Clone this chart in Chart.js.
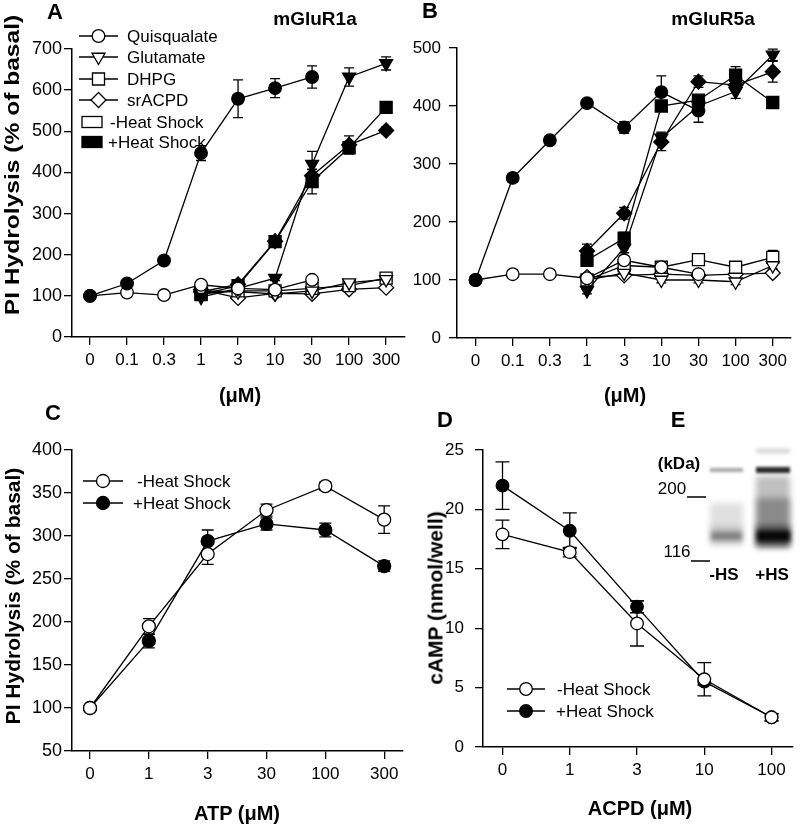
<!DOCTYPE html>
<html><head><meta charset="utf-8">
<script src="https://cdn.jsdelivr.net/npm/chart.js@4/dist/chart.umd.min.js"></script>
<style>
html,body{margin:0;padding:0;background:#fff;}
#wrap{position:relative;width:800px;height:826px;overflow:hidden;font-family:"Liberation Sans",Arial,sans-serif;color:#000;background:#fff;}
canvas.full{position:absolute;left:0;top:0;}
#blot{position:absolute;left:650px;top:440px;}
.t{position:absolute;white-space:nowrap;line-height:1;transform:translate(-50%,-50%);}
.b{font-weight:bold;}
</style></head><body><div id="wrap">
<canvas id="cA" class="full" width="800" height="826"></canvas>
<canvas id="cB" class="full" width="800" height="826"></canvas>
<canvas id="cC" class="full" width="800" height="826"></canvas>
<canvas id="cD" class="full" width="800" height="826"></canvas>
<canvas id="blot" width="150" height="150"></canvas>
<div class="t b" style="left:55px;top:12px;font-size:22px;">A</div>
<div class="t b" style="left:430px;top:11px;font-size:22px;">B</div>
<div class="t b" style="left:53px;top:413px;font-size:22px;">C</div>
<div class="t b" style="left:445px;top:420px;font-size:22px;">D</div>
<div class="t b" style="left:678px;top:420px;font-size:22px;">E</div>
<div class="t b" style="left:315px;top:18px;font-size:19px;">mGluR1a</div>
<div class="t b" style="left:713px;top:18px;font-size:19px;">mGluR5a</div>
<div class="t b" style="left:240px;top:395px;font-size:20px;">(μM)</div>
<div class="t b" style="left:625px;top:395px;font-size:20px;">(μM)</div>
<div class="t b" style="left:237px;top:813px;font-size:20px;">ATP (μM)</div>
<div class="t b" style="left:640px;top:808px;font-size:20px;">ACPD (μM)</div>
<div class="t b" style="left:11px;top:165px;font-size:21px;transform:translate(-50%,-50%) rotate(-90deg) scaleX(1.17);">PI Hydrolysis (% of basal)</div>
<div class="t b" style="left:12px;top:596px;font-size:21px;transform:translate(-50%,-50%) rotate(-90deg);">PI Hydrolysis (% of basal)</div>
<div class="t b" style="left:435px;top:598px;font-size:21px;transform:translate(-50%,-50%) rotate(-90deg);">cAMP (nmol/well)</div>
<div class="t b" style="left:679px;top:463px;font-size:17px;">(kDa)</div>
<div class="t" style="left:672px;top:488px;font-size:17px;">200</div>
<div class="t" style="left:677px;top:551px;font-size:17px;">116</div>
<div class="t b" style="left:724px;top:574px;font-size:17px;">-HS</div>
<div class="t b" style="left:772px;top:574px;font-size:17px;">+HS</div>
</div>
<script>
// ---------- data ----------
const catsAB = ['0','0.1','0.3','1','3','10','30','100','300'];
const catsC = ['0','1','3','30','100','300'];
const catsD = ['0','1','3','10','100'];

// Panel A (mGluR1a), % of basal
const quisA_plus = [100, 130, 186, 447, 579, 605, 632, null, null];
const quisA_plusErr = [3, 6, 5, 18, 46, 23, 27, null, null];
const gluA_plus = [null, null, null, 97, 118, 143, 420, 632, 665];
const gluA_plusErr = [null, null, null, 6, 8, 6, 31, 22, 16];
const dhpgA_plus = [null, null, null, 103, 125, 232, 378, 460, 558];
const dhpgA_plusErr = [null, null, null, 6, 8, 8, 30, 14, 8];
const srA_plus = [null, null, null, 110, 128, 233, 392, 467, 502];
const srA_plusErr = [null, null, null, 6, 8, 8, 15, 22, 8];
const quisA_minus = [100, 108, 102, 127, 118, 115, 139, null, null];
const quisA_minusErr = [3, 8, 4, 5, 6, 5, 5, null, null];
const gluA_minus = [null, null, null, 112, 110, 105, 112, 132, 140];
const gluA_minusErr = [null, null, null, 6, 6, 5, 5, 5, 5];
const dhpgA_minus = [null, null, null, 105, 112, 112, 118, 125, 143];
const dhpgA_minusErr = [null, null, null, 6, 6, 5, 5, 5, 5];
const srA_minus = [null, null, null, 115, 95, 106, 105, 116, 120];
const srA_minusErr = [null, null, null, 6, 6, 5, 5, 5, 5];

// Panel B (mGluR5a), % of basal
const quisB_plus = [100, 276, 341, 405, 363, 424, 392, null, null];
const quisB_plusErr = [3, 7, 6, 5, 10, 28, 20, null, null];
const gluB_plus = [null, null, null, 82, 155, 345, 400, 425, 488];
const gluB_plusErr = [null, null, null, 6, 8, 10, 10, 12, 10];
const dhpgB_plus = [null, null, null, 134, 172, 400, 410, 453, 406];
const dhpgB_plusErr = [null, null, null, 5, 10, 8, 8, 15, 8];
const srB_plus = [null, null, null, 150, 215, 338, 442, 436, 459];
const srB_plusErr = [null, null, null, 12, 10, 15, 10, 10, 18];
const quisB_minus = [100, 110, 110, 103, 134, 122, 110, null, null];
const quisB_minusErr = [3, 6, 5, 8, 6, 8, 6, null, null];
const gluB_minus = [null, null, null, 100, 112, 100, 100, 97, 125];
const gluB_minusErr = [null, null, null, 6, 6, 5, 5, 5, 6];
const dhpgB_minus = [null, null, null, 100, 125, 122, 135, 122, 139];
const dhpgB_minusErr = [null, null, null, 6, 6, 8, 8, 6, 12];
const srB_minus = [null, null, null, 105, 108, 110, 108, 110, 112];
const srB_minusErr = [null, null, null, 6, 5, 5, 5, 5, 5];

// Panel C (ATP), % of basal
const atpMinus = [100, 195, 279, 330, 358, 319];
const atpMinusErr = [3, 9, 12, 7, 5, 16];
const atpPlus = [100, 178, 294, 314, 307, 265];
const atpPlusErr = [3, 8, 13, 7, 8, 6];

// Panel D (ACPD), cAMP nmol/well
const acpdMinus = [17.9, 16.4, 10.4, 5.7, 2.5];
const acpdMinusErr = [1.2, 0.4, 1.9, 1.4, 0.3];
const acpdPlus = [22.0, 18.2, 11.8, 5.5, 2.5];
const acpdPlusErr = [2.0, 1.5, 0.5, 0.3, 0.3];

// ---------- helpers ----------
const FONT = '"Liberation Sans", Arial, sans-serif';
function pts(arr){ return arr.map((v,i)=>({x:i, y:v})); }
const SHAPES = {
  circle:  {pointStyle:'circle', r:6.3, rot:0},
  tri:     {pointStyle:'triangle', r:7.5, rot:180},
  square:  {pointStyle:'rect', r:8.5, rot:0},
  diamond: {pointStyle:'rectRot', r:7.5, rot:0}
};
function ds(values, errs, shape, filled, r){
  const s = SHAPES[shape];
  return {
    data: pts(values), errs: errs,
    borderColor:'#000', borderWidth:1.3, tension:0, fill:false,
    pointStyle:s.pointStyle, pointRotation:s.rot, pointRadius:r||s.r,
    pointBackgroundColor: filled ? '#000' : '#fff',
    pointBorderColor:'#000', pointBorderWidth:1.3
  };
}

const errPlugin = {
  id:'eb',
  beforeDatasetsDraw(chart, args, opts){
    const ctx = chart.ctx, xs = chart.scales.x, ys = chart.scales.y;
    ctx.save(); ctx.strokeStyle='#000'; ctx.lineWidth=1.3;
    chart.data.datasets.forEach(d=>{
      if(!d.errs) return;
      d.data.forEach((p,i)=>{
        const e = d.errs[i];
        if(p.y==null || !e) return;
        const x = xs.getPixelForValue(p.x);
        const y1 = ys.getPixelForValue(p.y+e), y2 = ys.getPixelForValue(p.y-e);
        ctx.beginPath();
        ctx.moveTo(x,y1); ctx.lineTo(x,y2);
        ctx.moveTo(x-opts.cap,y1); ctx.lineTo(x+opts.cap,y1);
        ctx.moveTo(x-opts.cap,y2); ctx.lineTo(x+opts.cap,y2);
        ctx.stroke();
      });
    });
    ctx.restore();
  }
};

const legendPlugin = {
  id:'lg',
  afterDraw(chart, args, opts){
    const ctx = chart.ctx;
    (opts.items||[]).forEach(it=>{
      ctx.save();
      ctx.strokeStyle='#000'; ctx.lineWidth=1.3;
      if(it.kind==='line'){
        ctx.beginPath(); ctx.moveTo(it.x1,it.y); ctx.lineTo(it.x2,it.y); ctx.stroke();
        const s = SHAPES[it.shape];
        ctx.fillStyle = it.filled ? '#000' : '#fff';
        Chart.helpers.drawPoint(ctx, {pointStyle:s.pointStyle, radius:it.r||s.r, rotation:s.rot, borderWidth:1.3}, (it.x1+it.x2)/2, it.y);
      } else {
        ctx.fillStyle = it.filled ? '#000' : '#fff';
        ctx.fillRect(it.x1, it.y-5.5, it.x2-it.x1, 11);
        ctx.strokeRect(it.x1, it.y-5.5, it.x2-it.x1, 11);
      }
      ctx.fillStyle='#000'; ctx.font='17px '+FONT; ctx.textBaseline='middle'; ctx.textAlign='left';
      ctx.fillText(it.text, it.tx, it.y+1);
      ctx.restore();
    });
  }
};

function zeroPad(s){ s.paddingLeft=0; s.paddingRight=0; s.paddingTop=0; s.paddingBottom=0; }

function makeChart(id, area, xcfg, ycfg, datasets, items, cap){
  const YW = 60, XH = 40;
  return new Chart(document.getElementById(id), {
    type:'line',
    data:{datasets},
    options:{
      responsive:false, animation:false, events:[],
      layout:{padding:{left:area.l-YW, top:area.t, right:800-area.r, bottom:826-area.b-XH}},
      plugins:{legend:{display:false}, tooltip:{enabled:false}, lg:{items}, eb:{cap}},
      scales:{
        x:{
          type:'linear', min:xcfg.min, max:xcfg.max,
          afterBuildTicks:s=>{ s.ticks = xcfg.labels.map((_,i)=>({value:i})); },
          ticks:{callback:(v,i)=>xcfg.labels[i], autoSkip:false, maxRotation:0, color:'#000',
                 font:{family:FONT, size:17}, padding:5},
          grid:{display:true, drawOnChartArea:false, drawTicks:true, tickLength:8, color:'#000', lineWidth:1.3},
          border:{display:true, color:'#000', width:1.5},
          afterFit:s=>{ s.height=XH; zeroPad(s); }
        },
        y:{
          type:'linear', min:ycfg.min, max:ycfg.max,
          ticks:{stepSize:ycfg.step, color:'#000', font:{family:FONT, size:ycfg.fs}, padding:ycfg.pad},
          grid:{display:true, drawOnChartArea:false, drawTicks:true, tickLength:8, color:'#000', lineWidth:1.3},
          border:{display:true, color:'#000', width:1.5},
          afterFit:s=>{ s.width=YW; zeroPad(s); }
        }
      }
    },
    plugins:[errPlugin, legendPlugin]
  });
}

// ---------- Panel A ----------
makeChart('cA', {l:72, t:49, r:405, b:337},
  {min:-0.486, max:8.51, labels:catsAB}, {min:0, max:700, step:100, fs:18, pad:2},
  [
    ds(quisA_plus, quisA_plusErr, 'circle', true),
    ds(quisA_minus, quisA_minusErr, 'circle', false),
    ds(gluA_plus, gluA_plusErr, 'tri', true),
    ds(gluA_minus, gluA_minusErr, 'tri', false),
    ds(dhpgA_plus, dhpgA_plusErr, 'square', true),
    ds(dhpgA_minus, dhpgA_minusErr, 'square', false),
    ds(srA_plus, srA_plusErr, 'diamond', true),
    ds(srA_minus, srA_minusErr, 'diamond', false)
  ],
  [
    {kind:'line', x1:79, x2:118, y:36, shape:'circle', filled:false, text:'Quisqualate', tx:127},
    {kind:'line', x1:79, x2:118, y:57, shape:'tri', filled:false, text:'Glutamate', tx:127},
    {kind:'line', x1:79, x2:118, y:79, shape:'square', filled:false, text:'DHPG', tx:127},
    {kind:'line', x1:79, x2:118, y:100, shape:'diamond', filled:false, text:'srACPD', tx:127},
    {kind:'box', x1:82, x2:102, y:122, filled:false, text:'-Heat Shock', tx:110},
    {kind:'box', x1:82, x2:102, y:142, filled:true, text:'+Heat Shock', tx:108}
  ], 5);

// ---------- Panel B ----------
makeChart('cB', {l:457, t:48, r:798, b:338},
  {min:-0.5, max:8.47, labels:catsAB}, {min:0, max:500, step:100, fs:17, pad:8},
  [
    ds(quisB_plus, quisB_plusErr, 'circle', true),
    ds(quisB_minus, quisB_minusErr, 'circle', false),
    ds(gluB_plus, gluB_plusErr, 'tri', true),
    ds(gluB_minus, gluB_minusErr, 'tri', false),
    ds(dhpgB_plus, dhpgB_plusErr, 'square', true),
    ds(dhpgB_minus, dhpgB_minusErr, 'square', false),
    ds(srB_plus, srB_plusErr, 'diamond', true),
    ds(srB_minus, srB_minusErr, 'diamond', false)
  ], [], 5);

// ---------- Panel C ----------
makeChart('cC', {l:72, t:450, r:403, b:751},
  {min:-0.306, max:5.32, labels:catsC}, {min:50, max:400, step:50, fs:18, pad:2},
  [
    ds(atpMinus, atpMinusErr, 'circle', false, 6.5),
    ds(atpPlus, atpPlusErr, 'circle', true, 6.5)
  ],
  [
    {kind:'line', x1:83, x2:123, y:481, shape:'circle', r:6.5, filled:false, text:'-Heat Shock', tx:137},
    {kind:'line', x1:83, x2:123, y:503, shape:'circle', r:6.5, filled:true, text:'+Heat Shock', tx:133}
  ], 6);

// ---------- Panel D ----------
makeChart('cD', {l:483, t:450, r:798, b:747},
  {min:-0.29, max:4.31, labels:catsD}, {min:0, max:25, step:5, fs:17, pad:11},
  [
    ds(acpdMinus, acpdMinusErr, 'circle', false, 6.3),
    ds(acpdPlus, acpdPlusErr, 'circle', true, 6.3)
  ],
  [
    {kind:'line', x1:507, x2:545, y:689, shape:'circle', r:6.3, filled:false, text:'-Heat Shock', tx:557},
    {kind:'line', x1:507, x2:545, y:711, shape:'circle', r:6.3, filled:true, text:'+Heat Shock', tx:556}
  ], 7);

// ---------- Panel E (western blot image, drawn on a plain canvas) ----------
(function(){
  const g = document.getElementById('blot').getContext('2d');
  function band(x,y,w,h,a,b){ g.filter='blur('+(b||2)+'px)'; g.fillStyle='rgba(0,0,0,'+a+')'; g.fillRect(x,y,w,h); }
  // -HS lane
  band(60,28,33,4,0.35,1.5);
  band(60,63,33,42,0.12,3);
  band(60,86,33,18,0.15,3);
  band(61,92,31,8,0.32,2);
  // +HS lane
  band(106,9,34,4,0.2,2);
  band(106,27,34,6,0.85,1.5);
  band(106,36,34,72,0.25,3);
  band(106,58,34,48,0.28,3);
  band(106,86,34,20,0.5,3);
  band(107,91,33,10,0.9,2);
  g.filter='none';
  g.strokeStyle='#000'; g.lineWidth=1.5;
  g.beginPath(); g.moveTo(37,57); g.lineTo(56,57); g.moveTo(41,121); g.lineTo(60,121); g.stroke();
})();
</script>
</body></html>
